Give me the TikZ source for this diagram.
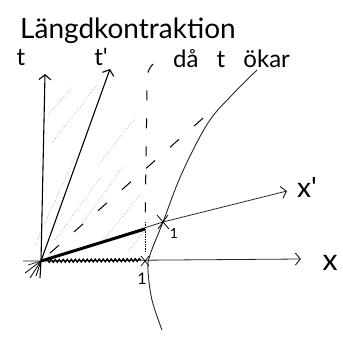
\documentclass[tikz,border=0pt]{standalone}
\usepackage{fontspec}
\setmainfont{Lato}
\usetikzlibrary{arrows.meta,decorations.pathmorphing}
\begin{document}
\begin{tikzpicture}[x=1pt,y=-1pt,
  axisline/.style={line width=1.1pt, -{Straight Barb[length=5pt,width=12pt,line width=1.1pt]}},
  thinaxis/.style={line width=0.8pt, black!85, -{Straight Barb[length=5pt,width=12pt,line width=1pt]}},
  hatch/.style={gray!70, dotted, line width=0.7pt},
  lbl/.style={inner sep=0pt, anchor=base}]
\useasboundingbox (0,0) rectangle (343,337);
% key points
\coordinate (O) at (41,261);
\coordinate (tend) at (45,74);
\coordinate (tpend) at (110,69);
\coordinate (xstart) at (23,261);
\coordinate (xend) at (301,259);
\coordinate (xpstart) at (28,265);
\coordinate (xpend) at (287,191);
\coordinate (I) at (163,222);
\coordinate (one) at (145,261);
\coordinate (A) at (145,229);
% hatching (faint dotted world lines)
\draw[hatch] (48,115) -- (72,87);
\draw[hatch] (52,143) -- (97,85);
\draw[hatch] (35,245) -- (76,155);
\draw[hatch] (55,240) -- (100,178);
\draw[hatch] (83,222) -- (123,167);
\draw[hatch] (100,163) -- (135,118);
\draw[hatch] (102,242) -- (140,195);
\draw[hatch] (128,252) -- (146,228);
% axes
\draw[line width=1.1pt] (40,278) -- (O);
\draw[axisline] (O) -- (tend);
\draw[axisline] (O) -- (tpend);
\draw[thinaxis] (xstart) -- (O) -- (xend);
\draw[thinaxis] (xpstart) -- (O) -- (I) -- (xpend);
% scribbles at origin
\draw[line width=0.8pt] (25,273) -- (O);
\draw[line width=0.8pt] (30,278) -- (O);
\draw[line width=0.8pt] (36,276) -- (O);
% light line (dashed)
\draw[line width=1pt, dash pattern=on 12pt off 20pt, dash phase=-12pt] (O) -- (210,112);
% dashed vertical
\draw[line width=1pt, dash pattern=on 10pt off 18pt] (153,64) .. controls (147,70) and (147,76) .. (147,90) -- (A);
\draw[line width=0.7pt, densely dotted] (145,222) -- (145,252);
% thick segment (x' length)
\draw[line width=3pt] (O) -- (A);
% wavy segment on x axis
\draw[line width=1.3pt, decorate, decoration={snake, amplitude=1.4pt, segment length=4pt}] (46,261) -- (141,260);
% hyperbola
\draw[line width=0.9pt, black!85] plot[smooth, tension=0.6] coordinates {(257,70) (232,95) (208,123) (182,173) (I) (150,255) (148,270) (152,300) (162,330)};
% marks
\draw[line width=0.8pt] (157,215) -- (169,229) (168,215) -- (158,229);
\draw[line width=0.7pt] (141,256) -- (149,266) (149,256) -- (141,266);
% labels
\node[anchor=base west, inner sep=0pt] (title) at (20,39) {\fontsize{28}{28}\selectfont Längdkontraktion};
\node[lbl] (tl) at (21,66) {\fontsize{24}{24}\selectfont t};
\node[lbl] (tpl) at (101,66) {\fontsize{24}{24}\selectfont t\textquotesingle};
\node[anchor=base west, inner sep=0pt] (dl) at (173,67) {\fontsize{24}{24}\selectfont då\hspace{0.5em} t\hspace{0.5em} ökar};
\node[lbl] (xl) at (330,270) {\fontsize{30}{30}\selectfont x};
\node[lbl] (xpl) at (307,197) {\fontsize{28}{28}\selectfont x\textquotesingle};
\node[lbl] (onea) at (142,284) {\fontsize{16}{16}\selectfont 1};
\node[lbl] (oneb) at (174,238) {\fontsize{14}{14}\selectfont 1};
\end{tikzpicture}
\end{document}
